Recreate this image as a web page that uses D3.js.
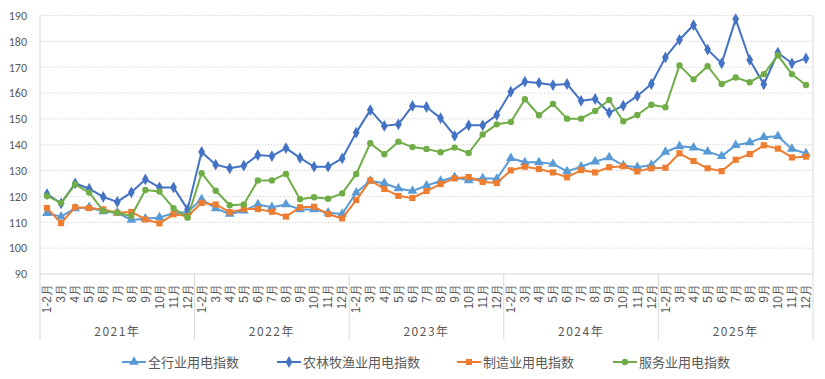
<!DOCTYPE html>
<html><head><meta charset="utf-8">
<script src="https://cdn.jsdelivr.net/npm/d3@7"></script>
<style>body{margin:0;background:#fff}svg{display:block;font-family:"Noto Sans CJK SC","Noto Sans",sans-serif}</style>
</head><body><svg id="c" width="825" height="379"></svg>
<script>
const years = ["2021年","2022年","2023年","2024年","2025年"];
const months = ["1-2月","3月","4月","5月","6月","7月","8月","9月","10月","11月","12月"];
const yTicks = [90,100,110,120,130,140,150,160,170,180,190];
const seriesNames = ["全行业用电指数","农林牧渔业用电指数","制造业用电指数","服务业用电指数"];
const total = [113.5,112.2,115.4,115.8,114.2,113.7,110.9,111.4,111.9,113.5,114.0,
 118.9,115.4,113.2,114.5,116.9,115.8,116.9,115.0,115.0,113.7,113.2,
 121.5,126.0,125.1,123.1,122.1,124.2,126.0,127.5,126.2,127.0,126.8,
 134.8,133.2,133.2,132.6,129.7,131.5,133.5,135.1,132.0,131.3,132.2,
 137.2,139.4,138.9,137.3,135.6,139.8,140.9,142.9,143.3,138.4,136.6];
const agri = [120.9,117.3,125.1,123.0,119.8,117.9,121.6,126.6,123.5,123.5,115.0,
 137.2,132.3,130.9,131.9,136.0,135.6,138.7,134.9,131.5,131.5,134.7,
 144.7,153.4,147.3,147.9,155.0,154.6,150.3,143.4,147.5,147.5,151.5,
 160.5,164.4,163.9,163.1,163.5,157.0,157.7,152.4,155.1,158.9,163.5,
 173.8,180.6,186.3,176.8,171.5,188.6,172.8,163.4,175.6,171.5,173.4];
const mfg = [115.5,109.7,115.8,115.5,115.0,113.7,114.0,111.1,109.6,113.1,112.4,
 117.5,116.9,113.9,115.1,115.1,114.1,112.2,115.8,116.0,113.2,111.5,
 118.6,126.2,122.9,120.2,119.4,122.1,124.8,127.0,127.5,125.6,125.2,
 130.1,131.5,130.6,129.3,127.4,130.2,129.3,131.3,131.7,129.7,130.9,
 131.1,136.7,133.7,130.9,129.8,134.2,136.4,139.8,138.5,135.1,135.4];
const services = [120.2,117.5,124.7,121.5,114.4,113.7,112.4,122.5,121.9,115.5,111.8,
 129.0,122.2,116.6,116.9,126.2,126.2,128.7,118.9,119.7,119.1,121.2,
 128.7,140.6,136.3,141.2,139.1,138.4,137.1,138.9,136.8,144.0,147.9,
 148.8,157.6,151.4,155.8,150.1,150.1,153.1,157.3,149.1,151.5,155.5,
 154.5,170.7,165.3,170.4,163.5,166.0,164.2,167.3,174.6,167.3,163.1];

const colors = ["#5B9BD5","#4472C4","#ED7D31","#70AD47"];
const symbols = [d3.symbolTriangle, d3.symbolDiamond, d3.symbolSquare, d3.symbolCircle];
const symSizes = [42, 40, 38, 32];
const data = [total, agri, mfg, services];

const svg = d3.select("#c");
const L = 40, R = 813, T = 15.5, B = 274;
const cats = [];
years.forEach(y => months.forEach(m => cats.push(y + "|" + m)));
const x = d3.scaleBand().domain(cats).range([L, R]);
const y = d3.scaleLinear().domain([90,190]).range([B, T]);

// gridlines
svg.append("g").selectAll("line").data(yTicks.filter(v => v > 90)).join("line")
  .attr("x1", L).attr("x2", R).attr("y1", d => y(d)).attr("y2", d => y(d))
  .attr("stroke", "#d9d9d9").attr("stroke-width", 1).attr("stroke-dasharray", "1.5,1.5");

// y axis labels
const yAxis = d3.axisLeft(y).tickValues(yTicks).tickSize(0).tickPadding(13);
const gy = svg.append("g").attr("transform", `translate(${L},0)`).call(yAxis);
gy.select(".domain").remove();
gy.selectAll("text").attr("fill", "#595959").style("font-size", "12px").style("font-family", "Calibri,'Liberation Sans','Noto Sans',sans-serif");

// frame lines
svg.append("line").attr("x1", L).attr("x2", R).attr("y1", B).attr("y2", B).attr("stroke", "#d9d9d9");
svg.append("line").attr("x1", L).attr("x2", L).attr("y1", T).attr("y2", 340).attr("stroke", "#d9d9d9");
svg.append("line").attr("x1", R).attr("x2", R).attr("y1", T).attr("y2", 340).attr("stroke", "#d9d9d9");
years.forEach((yr, i) => {
  if (i > 0) {
    const xb = x(yr + "|" + months[0]);
    svg.append("line").attr("x1", xb).attr("x2", xb).attr("y1", B).attr("y2", 340).attr("stroke", "#d9d9d9");
  }
});

// x category labels (rotated)
const xAxis = d3.axisBottom(x).tickSize(0).tickFormat(d => d.split("|")[1]);
const gx = svg.append("g").attr("transform", `translate(0,${B})`).call(xAxis);
gx.select(".domain").remove();
gx.selectAll("text").attr("transform", "rotate(-90)").attr("text-anchor", "end")
  .attr("x", -10).attr("y", 0).attr("dy", "0.35em")
  .attr("fill", "#595959").style("font-size", "12px");

// year labels
svg.append("g").selectAll("text").data(years).join("text")
  .attr("x", d => (x(d + "|" + months[0]) + x(d + "|" + months[months.length-1]) + x.bandwidth()) / 2)
  .attr("y", 336).attr("text-anchor", "middle").attr("fill", "#595959")
  .style("font-size", "12px").style("letter-spacing", "1.5px").text(d => d);

// lines & markers
const line = d3.line().x((d, i) => x(cats[i]) + x.bandwidth()/2).y(d => y(d));
data.forEach((arr, si) => {
  const g = svg.append("g");
  g.append("path").datum(arr).attr("d", line).attr("fill", "none")
    .attr("stroke", colors[si]).attr("stroke-width", 2).attr("stroke-linejoin", "round");
  g.selectAll("path.m").data(arr).join("path").attr("class", "m")
    .attr("transform", (d, i) => `translate(${x(cats[i]) + x.bandwidth()/2},${y(d)})`)
    .attr("d", d3.symbol().type(symbols[si]).size(symSizes[si]))
    .attr("fill", colors[si]);
});

// legend
const legX = [122, 277, 457, 613];
const lg = svg.append("g");
seriesNames.forEach((n, i) => {
  const g = lg.append("g").attr("transform", `translate(${legX[i]},362)`);
  g.append("line").attr("x1", 0).attr("x2", 24).attr("y1", 0).attr("y2", 0).attr("stroke", colors[i]).attr("stroke-width", 2);
  g.append("path").attr("transform", "translate(12,0)").attr("d", d3.symbol().type(symbols[i]).size(symSizes[i])).attr("fill", colors[i]);
  g.append("text").attr("x", 26).attr("y", 0).attr("dy", "0.35em").attr("fill", "#595959")
    .style("font-size", "13px").text(n);
});
</script></body></html>
